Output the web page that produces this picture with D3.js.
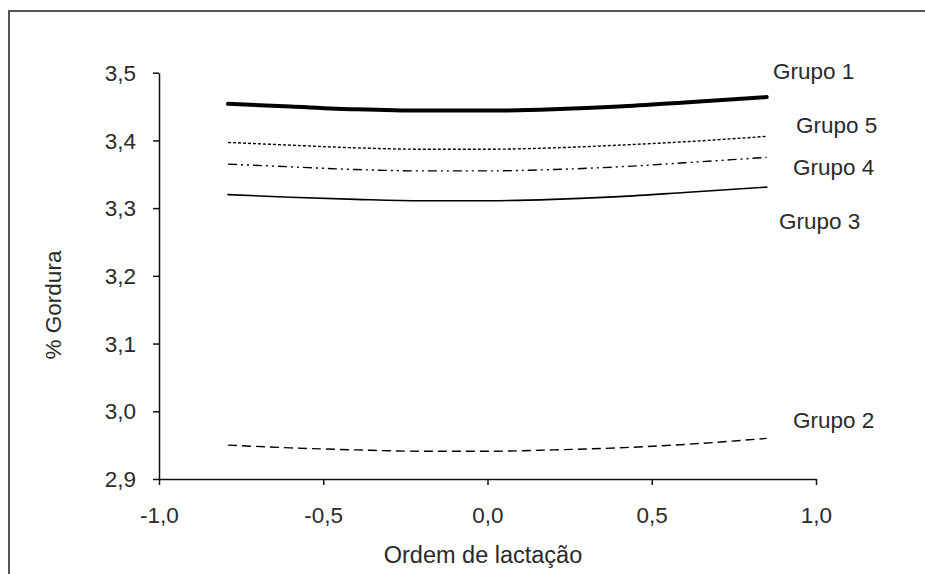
<!DOCTYPE html>
<html>
<head>
<meta charset="utf-8">
<script src="https://cdn.jsdelivr.net/npm/d3@7"></script>
<style>
  html, body { margin: 0; padding: 0; background: #fff; }
  svg { display: block; }
  text { font-family: "Liberation Sans", Arial, sans-serif; fill: #2a2a2a; }
</style>
</head>
<body>
<svg id="chart" width="925" height="574"></svg>
<script>
// Ordem de lactação (centred) at which each curve is evaluated
const ordem = [-0.79, -0.6, -0.4, -0.2, 0.0, 0.2, 0.4, 0.6, 0.85];

// % gordura per group
const grupo1 = [3.454, 3.450, 3.446, 3.444, 3.444, 3.446, 3.450, 3.456, 3.464];
const grupo5 = [3.397, 3.393, 3.389, 3.387, 3.387, 3.389, 3.393, 3.398, 3.406];
const grupo4 = [3.365, 3.361, 3.357, 3.355, 3.355, 3.357, 3.361, 3.367, 3.375];
const grupo3 = [3.320, 3.316, 3.313, 3.311, 3.311, 3.313, 3.317, 3.323, 3.331];
const grupo2 = [2.950, 2.946, 2.943, 2.941, 2.941, 2.943, 2.946, 2.951, 2.960];

const xTicks = [-1.0, -0.5, 0.0, 0.5, 1.0];
const yTicks = [2.9, 3.0, 3.1, 3.2, 3.3, 3.4, 3.5];

const series = [
  { name: "Grupo 1", values: grupo1, width: 4,   dash: null,            lx: 773, ly: 71 },
  { name: "Grupo 5", values: grupo5, width: 1.4, dash: "3,2",           lx: 796, ly: 125 },
  { name: "Grupo 4", values: grupo4, width: 1.4, dash: "9,4,2,4,2,4",   lx: 793, ly: 167 },
  { name: "Grupo 3", values: grupo3, width: 1.6, dash: null,            lx: 779, ly: 221 },
  { name: "Grupo 2", values: grupo2, width: 1.4, dash: "9,5",           lx: 793, ly: 420 }
];

const FS = 22.5;
const fmt = d => d3.format(".1f")(d).replace(".", ",").replace("−", "-");

const svg = d3.select("#chart");

// outer frame
svg.append("rect")
  .attr("x", 9).attr("y", 11)
  .attr("width", 940).attr("height", 600)
  .attr("fill", "none").attr("stroke", "#555").attr("stroke-width", 2);

const x = d3.scaleLinear().domain([-1, 1]).range([159, 816]);
const y = d3.scaleLinear().domain([2.9, 3.5]).range([479, 72.7]);

const xAxis = svg.append("g")
  .attr("transform", `translate(0,${y(2.9)})`)
  .call(d3.axisBottom(x).tickValues(xTicks).tickFormat(fmt).tickSize(6).tickSizeOuter(0).tickPadding(22));

const yAxis = svg.append("g")
  .attr("transform", `translate(${x(-1)},0)`)
  .call(d3.axisLeft(y).tickValues(yTicks).tickFormat(fmt).tickSize(6).tickSizeOuter(0).tickPadding(17));

[xAxis, yAxis].forEach(g => {
  g.select(".domain").attr("stroke", "#111").attr("stroke-width", 1.5);
  g.selectAll(".tick line").attr("stroke", "#111").attr("stroke-width", 1.5);
  g.selectAll(".tick text")
    .attr("font-size", FS)
    .attr("font-family", "'Liberation Sans', Arial, sans-serif")
    .attr("fill", "#2a2a2a");
});
xAxis.selectAll(".tick text").attr("dy", "0.71em");
yAxis.selectAll(".tick text").attr("dy", "0.34em");

const line = d3.line()
  .x((d, i) => x(ordem[i]))
  .y(d => y(d))
  .curve(d3.curveMonotoneX);

series.forEach(s => {
  svg.append("path")
    .datum(s.values)
    .attr("d", line)
    .attr("fill", "none")
    .attr("stroke", "#000")
    .attr("stroke-width", s.width)
    .attr("stroke-linecap", s.dash ? "butt" : "round")
    .attr("stroke-dasharray", s.dash);

  svg.append("text")
    .attr("x", s.lx).attr("y", s.ly)
    .attr("dy", "0.35em")
    .attr("font-size", FS)
    .text(s.name);
});

// axis titles
svg.append("text")
  .attr("x", 483).attr("y", 555).attr("dy", "0.35em")
  .attr("text-anchor", "middle")
  .attr("font-size", 23.5)
  .text("Ordem de lactação");

svg.append("text")
  .attr("transform", "translate(53,305) rotate(-90)")
  .attr("dy", "0.35em")
  .attr("text-anchor", "middle")
  .attr("font-size", FS)
  .text("% Gordura");
</script>
</body>
</html>
